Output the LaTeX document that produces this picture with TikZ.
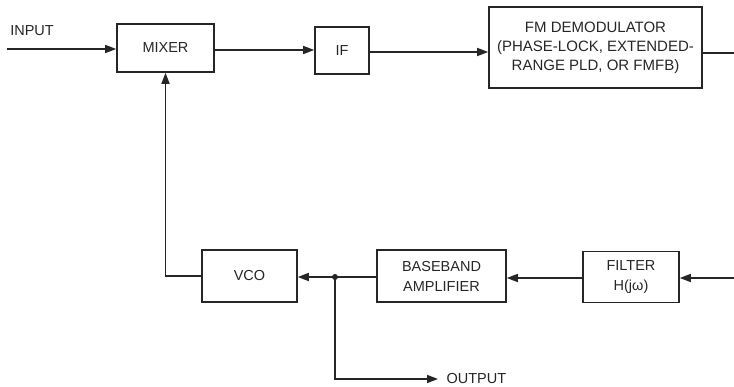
\documentclass[tikz,border=0pt]{standalone}
\usepackage{fontspec}
\setmainfont{Liberation Sans}
\usetikzlibrary{arrows.meta}
\begin{document}
\begin{tikzpicture}[x=1pt,y=-1pt,
  every node/.style={font=\fontsize{14.5}{18}\selectfont, text=black!85},
  blk/.style={draw=black!85, line width=1.6pt, align=center, inner sep=0pt},
  wire/.style={draw=black!85, line width=1.6pt},
  arr/.style={wire, -{Triangle[length=11pt,width=8pt]}}]
\useasboundingbox (0,0) rectangle (734,387);
% blocks
\node[blk, minimum width=97pt, minimum height=48pt] (mixer) at (165.5,48) {MIXER};
\node[blk, minimum width=54pt, minimum height=47pt] (if) at (342,50.5) {IF};
\node[blk, minimum width=213pt, minimum height=81pt, font=\fontsize{15}{19}\selectfont] (fm) at (595.5,47.5) {FM DEMODULATOR\\(PHASE-LOCK, EXTENDED-\\RANGE PLD, OR FMFB)};
\node[blk, minimum width=95pt, minimum height=52pt] (vco) at (249.5,276) {VCO};
\node[blk, minimum width=129pt, minimum height=52pt, font=\fontsize{14.5}{20}\selectfont] (bb) at (441.5,276) {BASEBAND\\AMPLIFIER};
\node[blk, minimum width=96pt, minimum height=51pt, font=\fontsize{14.5}{20}\selectfont] (filt) at (631,277) {FILTER\\H(jω)};
% labels
\node (inlbl) at (32,31) {INPUT};
\node[anchor=west] (outlbl) at (443,379) {OUTPUT};
% coordinates
\coordinate (in) at (7,49);
\coordinate (fmout) at (734,53);
\coordinate (fin) at (734,278);
\coordinate (j) at (335,277);
\coordinate (outend) at (438,379);
% connectors
\draw[arr] (in) -- (in -| mixer.west);
\draw[arr] (mixer.east |- 0,50) -- (if.west |- 0,50);
\draw[arr] (if.east |- 0,52) -- (fm.west |- 0,52);
\draw[wire] (fm.east |- fmout) -- (fmout);
\draw[arr] (fin) -- (fin -| filt.east);
\draw[arr] (filt.west |- 0,278) -- (bb.east |- 0,278);
\draw[arr] (bb.west |- j) -- (vco.east |- j);
\draw[arr] (vco.west |- 0,276) -| (mixer.south);
\draw[arr] (j) |- (outend);
\fill[black!85] (j) circle (3pt);
\end{tikzpicture}
\end{document}
